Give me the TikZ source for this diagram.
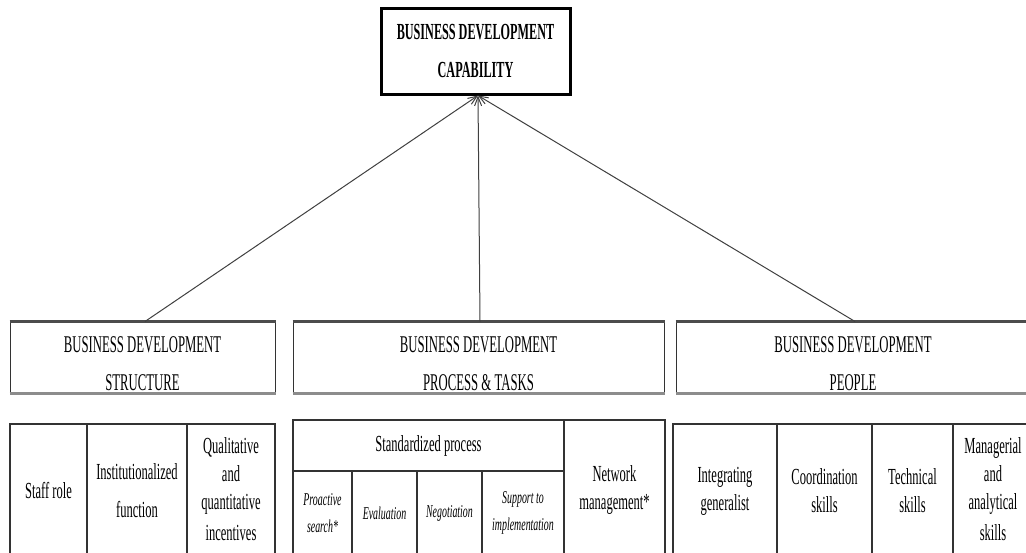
\documentclass[tikz,border=0pt]{standalone}
\usepackage{fontspec}
\setmainfont{Liberation Serif}[FakeStretch=0.53]
\newfontfamily\cellfont{Liberation Serif}[FakeStretch=0.545]
\newfontfamily\icellfont{Liberation Serif}[FakeStretch=0.55]
\usetikzlibrary{arrows.meta}
\begin{document}
\begin{tikzpicture}[x=1pt,y=-1pt,
  topbox/.style={draw=black, line width=3pt, inner sep=0pt, align=center,
    font=\bfseries\fontsize{23}{38}\selectfont},
  midbox/.style={draw=black!80, line width=1pt, inner sep=0pt},
  midtext/.style={inner sep=0pt, align=center, font=\fontsize{24}{38}\selectfont},
  cell/.style={draw=black!80, line width=1.1pt, inner sep=0pt, align=center,
    font=\cellfont\fontsize{23}{28}\selectfont},
  icell/.style={cell, font=\icellfont\itshape\fontsize{18}{27}\selectfont},
  conn/.style={draw=black!75, line width=1pt, -{Straight Barb[length=9pt,width=7pt]}},
  edge/.style={line width=2.5pt}]
\useasboundingbox (0,0) rectangle (1026,552);
\clip (0,0) rectangle (1026,552);
\fill[white] (0,0) rectangle (1026,552);

% top box
\node[topbox, minimum width=189pt, minimum height=86pt] (cap) at (475.5,51)
  {BUSINESS DEVELOPMENT\\CAPABILITY};

% second row boxes
\node[midbox, minimum width=265pt, minimum height=71pt] (sL) at (142.5,357.5) {};
\node[midbox, minimum width=371pt, minimum height=71pt] (sM) at (478.5,357.5) {};
\node[midbox, minimum width=354pt, minimum height=71pt] (sR) at (853,357.5) {};
\foreach \b in {sL,sM,sR}{
  \draw[edge, black!70] (\b.north west) -- (\b.north east);
  \draw[edge, black!45] (\b.south west) -- (\b.south east);
}
\node[midtext] (tL) at (142.5,364) {BUSINESS DEVELOPMENT\\STRUCTURE};
\node[midtext] (tM) at (478.5,364) {BUSINESS DEVELOPMENT\\PROCESS \& TASKS};
\node[midtext] (tR) at (853,364) {BUSINESS DEVELOPMENT\\PEOPLE};

% connectors
\coordinate (apex) at ([xshift=2.5pt]cap.south);
\draw[conn] ([xshift=2.5pt]sL.north) -- (apex);
\draw[conn] ([xshift=1.5pt]sM.north) -- (apex);
\draw[conn] ([xshift=2pt]sR.north) -- (apex);

% left table
\node[cell, minimum width=77pt, minimum height=134pt] (t1) at (48.5,491) {Staff role};
\node[cell, minimum width=100pt, minimum height=134pt] (t2) at (137,491) {Institutionalized\\[10pt]function};
\node[cell, minimum width=88pt, minimum height=130pt] (t3) at (231,489) {Qualitative\\and\\quantitative\\[3pt]incentives};

% middle table
\node[cell, minimum width=271pt, minimum height=51pt] (sp) at (428.5,445.5) {Standardized process};
\node[icell, minimum width=59pt, minimum height=84pt] (p1) at (322.5,513) {Proactive\\search*};
\node[icell, minimum width=65pt, minimum height=84pt] (p2) at (384.5,513) {Evaluation};
\node[icell, minimum width=65pt, minimum height=84pt] (p3) at (449.5,513) {Negotiation};
\node[icell, minimum width=82pt, minimum height=84pt] (p4) at (523,513) {Support to\\implementation};
\node[cell, minimum width=101pt, minimum height=140pt] (nm) at (614.5,490) {Network\\management*};

% right table
\node[cell, minimum width=104pt, minimum height=134pt] (r1) at (725,491) {Integrating\\generalist};
\node[cell, minimum width=95pt, minimum height=134pt] (r2) at (824.5,491) {Coordination\\skills};
\node[cell, minimum width=81pt, minimum height=134pt] (r3) at (912.5,491) {Technical\\skills};
\node[cell, minimum width=80pt, minimum height=130pt, text width=76pt] (r4) at (993,489) {Managerial\\and\\analytical\\[3pt]skills};
\end{tikzpicture}
\end{document}
